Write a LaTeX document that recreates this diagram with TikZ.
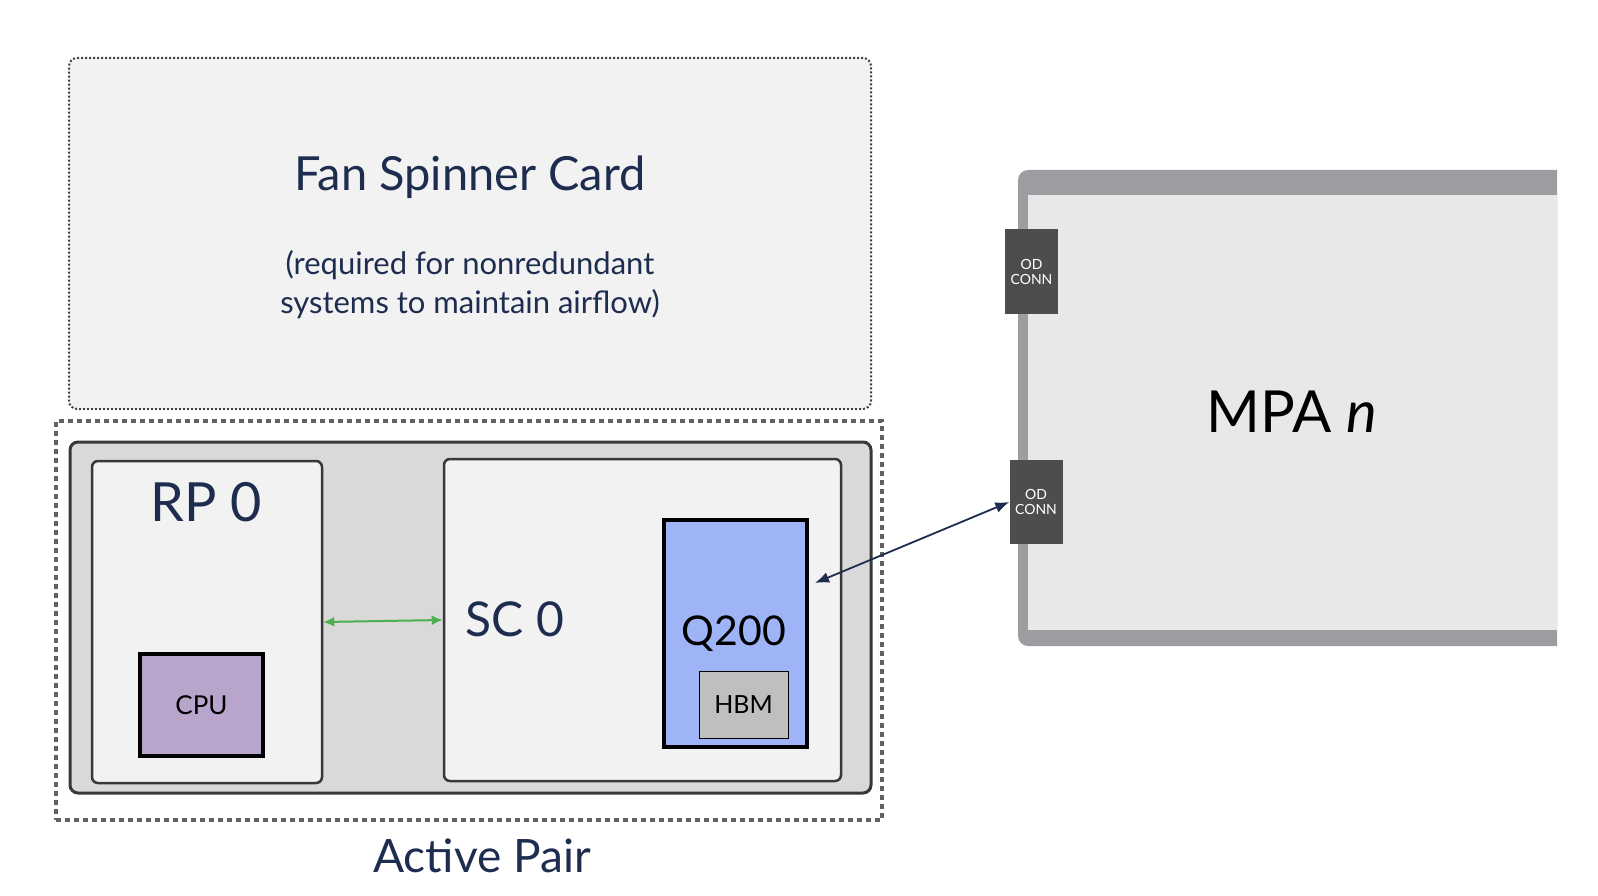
\documentclass[tikz,border=0pt]{standalone}
\usepackage{fontspec}
\setmainfont{Lato}
\usepackage{tikz}
\usetikzlibrary{arrows.meta, positioning, calc}
\usepackage{xcolor}
\definecolor{navytxt}{HTML}{1E2D4F}
\definecolor{cardfill}{HTML}{F2F2F2}
\definecolor{pairfill}{HTML}{D9D9D9}
\definecolor{cpufill}{HTML}{B9A5CC}
\definecolor{asicfill}{HTML}{9FB3F7}
\definecolor{hbmfill}{HTML}{BFBFBF}
\definecolor{mpaframe}{HTML}{9D9DA1}
\definecolor{mpafill}{HTML}{E8E8E8}
\definecolor{connfill}{HTML}{4D4D4D}
\definecolor{linkgreen}{HTML}{4CAF50}

\begin{document}
\begin{tikzpicture}[x=1pt, y=-1pt,
    box/.style={rectangle, inner sep=0pt},
    card/.style={box, fill=cardfill, draw=black!78, line width=2.5pt, rounded corners=6pt},
    chip/.style={box, draw=black, line width=4pt},
    conn/.style={box, fill=connfill, text=white, align=center, minimum width=53pt, minimum height=84pt, font=\fontsize{14}{15}\selectfont},
    bigtxt/.style={font=\fontsize{48}{52}\selectfont}]
  \useasboundingbox (0,0) rectangle (1598,896);

  % fan spinner card
  \node[box, fill=cardfill, draw=black!75, line width=2pt, dash pattern=on 2pt off 2pt, rounded corners=8pt,
        minimum width=802pt, minimum height=351pt] (fsc) at (470,233.5) {};
  \node[text=navytxt, font=\fontsize{47}{50}\selectfont] (fsctitle) at (470,177) {Fan Spinner Card};
  \node[text=navytxt, align=center, font=\fontsize{31}{39}\selectfont] (fscnote) at (470,285)
    {(required for nonredundant\\systems to maintain airflow)};

  % active pair
  \node[box, draw=black!62, line width=4.5pt, dash pattern=on 5pt off 4pt,
        minimum width=826pt, minimum height=399pt] (pair) at (469,620.5) {};
  \node[box, fill=pairfill, draw=black!78, line width=3pt, rounded corners=8pt,
        minimum width=801pt, minimum height=351pt] (chassis) at (470.5,617.5) {};
  \node[text=navytxt, font=\fontsize{46}{50}\selectfont] (pairlbl) at (482,856) {Active Pair};

  % route processor
  \node[card, minimum width=230pt, minimum height=322pt] (rp) at (207,622) {};
  \node[text=navytxt, font=\fontsize{54}{58}\selectfont] (rplbl) at (206,502) {RP 0};
  \node[chip, fill=cpufill, minimum width=123pt, minimum height=102pt,
        font=\fontsize{26}{28}\selectfont] (cpu) at (201.5,705) {CPU};

  % switch card
  \node[card, minimum width=397pt, minimum height=322pt] (sc) at (642.5,620) {};
  \node[text=navytxt, bigtxt] (sclbl) at (515,619) {SC 0};
  \node[chip, fill=asicfill, minimum width=143pt, minimum height=227pt] (q200) at (735.5,633.5) {};
  \node[font=\fontsize{41}{45}\selectfont] (q200lbl) at (734,634) {Q200};
  \node[box, fill=hbmfill, draw=black, line width=1pt, minimum width=89pt, minimum height=67pt,
        font=\fontsize{25}{27}\selectfont] (hbm) at (743.5,704.5) {HBM};
  \coordinate (q200port) at (815,583);

  % MPA
  \begin{scope}
    \clip (0,0) rectangle (1557,896);
    \node[box, fill=mpaframe, rounded corners=10pt, minimum width=640pt, minimum height=476pt] (mpa) at (1338,408) {};
    \node[box, fill=mpafill, minimum width=640pt, minimum height=435pt] (mpain) at (1348,412.5) {};
  \end{scope}
  \node[font=\fontsize{58}{62}\selectfont] (mpalbl) at (1292,412) {MPA \textit{n}};
  \node[conn] (conn1) at (1031.5,271.5) {OD\\CONN};
  \node[conn] (conn2) at (1036,502) {OD\\CONN};

  \draw[{Latex[length=11pt,width=10pt]}-{Latex[length=11pt,width=10pt]}, linkgreen, line width=2pt] (rp.east) -- (sc.west);
  \draw[{Latex[length=14pt,width=11pt]}-{Latex[length=14pt,width=11pt]}, navytxt, line width=1.8pt] (q200port) -- (conn2.west);
\end{tikzpicture}
\end{document}
